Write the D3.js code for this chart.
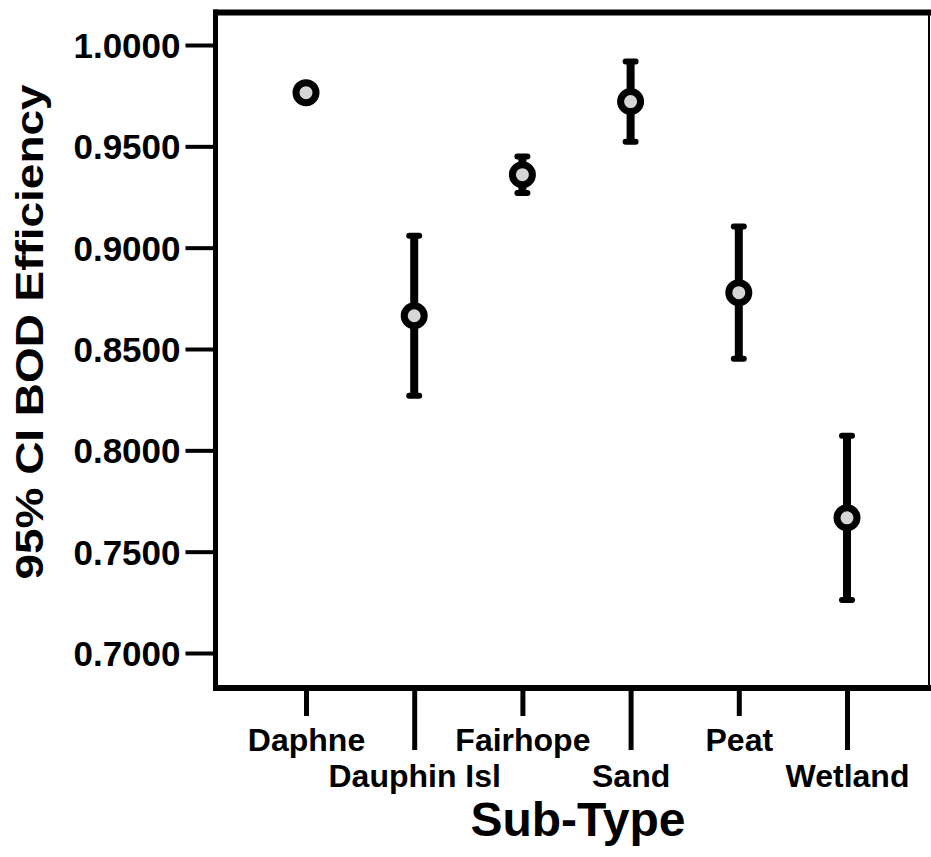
<!DOCTYPE html>
<html>
<head>
<meta charset="utf-8">
<script src="https://cdn.jsdelivr.net/npm/d3@7.9.0/dist/d3.min.js"></script>
<style>
  body { margin: 0; background: #fff; }
  svg { display: block; font-family: "Liberation Sans", Arial, sans-serif; font-weight: bold; }
</style>
</head>
<body>
<svg id="chart" width="931" height="857"></svg>
<script>
// values
const subTypes = ["Daphne", "Dauphin Isl", "Fairhope", "Sand", "Peat", "Wetland"];
const meanEff = [0.9765, 0.8664, 0.9360, 0.9721, 0.8778, 0.7667];
const lowerCI = [0.9762, 0.8269, 0.9270, 0.9523, 0.8452, 0.7262];
const upperCI = [0.9768, 0.9059, 0.9450, 0.9919, 0.9104, 0.8072];
const yTicks = [0.70, 0.75, 0.80, 0.85, 0.90, 0.95, 1.00];

const svg = d3.select("#chart");

const x = d3.scalePoint().domain(subTypes).range([306, 847]);
const y = d3.scaleLinear().domain([0.7, 1.0]).range([653, 45]);

const frameL = 215.5, frameT = 12.5, frameB = 688, frameR = 929;

// frame
svg.append("line").attr("x1", frameL - 2).attr("x2", 931).attr("y1", frameT).attr("y2", frameT)
  .attr("stroke", "#000").attr("stroke-width", 6);
svg.append("line").attr("x1", frameR).attr("x2", frameR).attr("y1", frameT).attr("y2", frameB)
  .attr("stroke", "#000").attr("stroke-width", 2);

// y axis
const yAxis = svg.append("g")
  .attr("transform", `translate(${frameL},0)`)
  .call(d3.axisLeft(y).tickValues(yTicks).tickFormat(d3.format(".4f")).tickSize(30).tickPadding(5));
yAxis.select(".domain").remove();
yAxis.selectAll(".tick line").attr("stroke", "#000").attr("stroke-width", 4);
yAxis.selectAll(".tick text").attr("font-size", 35).attr("font-weight", "bold")
  .attr("fill", "#000").attr("dy", "0.36em");
svg.append("line").attr("x1", frameL).attr("x2", frameL).attr("y1", frameT - 3).attr("y2", frameB + 3)
  .attr("stroke", "#000").attr("stroke-width", 5);

// x axis with staggered labels
const xAxis = svg.append("g")
  .attr("transform", `translate(0,${frameB})`)
  .call(d3.axisBottom(x).tickSize(0).tickPadding(0));
xAxis.select(".domain").remove();
xAxis.selectAll(".tick line")
  .attr("y2", (d, i) => (i % 2 === 0 ? 28 : 62))
  .attr("stroke", "#000").attr("stroke-width", 5);
xAxis.selectAll(".tick text")
  .attr("font-size", 32).attr("font-weight", "bold").attr("fill", "#000")
  .attr("dy", 0)
  .attr("y", (d, i) => (i % 2 === 0 ? 63 : 99));
svg.append("line").attr("x1", frameL - 2).attr("x2", 931).attr("y1", frameB).attr("y2", frameB)
  .attr("stroke", "#000").attr("stroke-width", 6);

// error bars
const bars = svg.append("g");
subTypes.forEach((s, i) => {
  const cx = x(s);
  bars.append("line").attr("x1", cx).attr("x2", cx)
    .attr("y1", y(upperCI[i])).attr("y2", y(lowerCI[i]))
    .attr("stroke", "#000").attr("stroke-width", 8);
  [upperCI[i], lowerCI[i]].forEach(v => {
    bars.append("line").attr("x1", cx - 5).attr("x2", cx + 5)
      .attr("y1", y(v)).attr("y2", y(v))
      .attr("stroke", "#000").attr("stroke-width", 6).attr("stroke-linecap", "round");
  });
});

// mean markers
svg.append("g").selectAll("circle")
  .data(subTypes)
  .join("circle")
  .attr("cx", d => x(d))
  .attr("cy", (d, i) => y(meanEff[i]))
  .attr("r", 10)
  .attr("fill", "#d6d6d6")
  .attr("stroke", "#000")
  .attr("stroke-width", 7);

// axis titles
svg.append("text")
  .attr("transform", "translate(43,332) rotate(-90)")
  .attr("text-anchor", "middle")
  .attr("font-size", 39)
  .attr("textLength", 495)
  .attr("lengthAdjust", "spacingAndGlyphs")
  .text("95% CI BOD Efficiency");

svg.append("text")
  .attr("x", 578).attr("y", 836)
  .attr("text-anchor", "middle")
  .attr("font-size", 48)
  .text("Sub-Type");
</script>
</body>
</html>
